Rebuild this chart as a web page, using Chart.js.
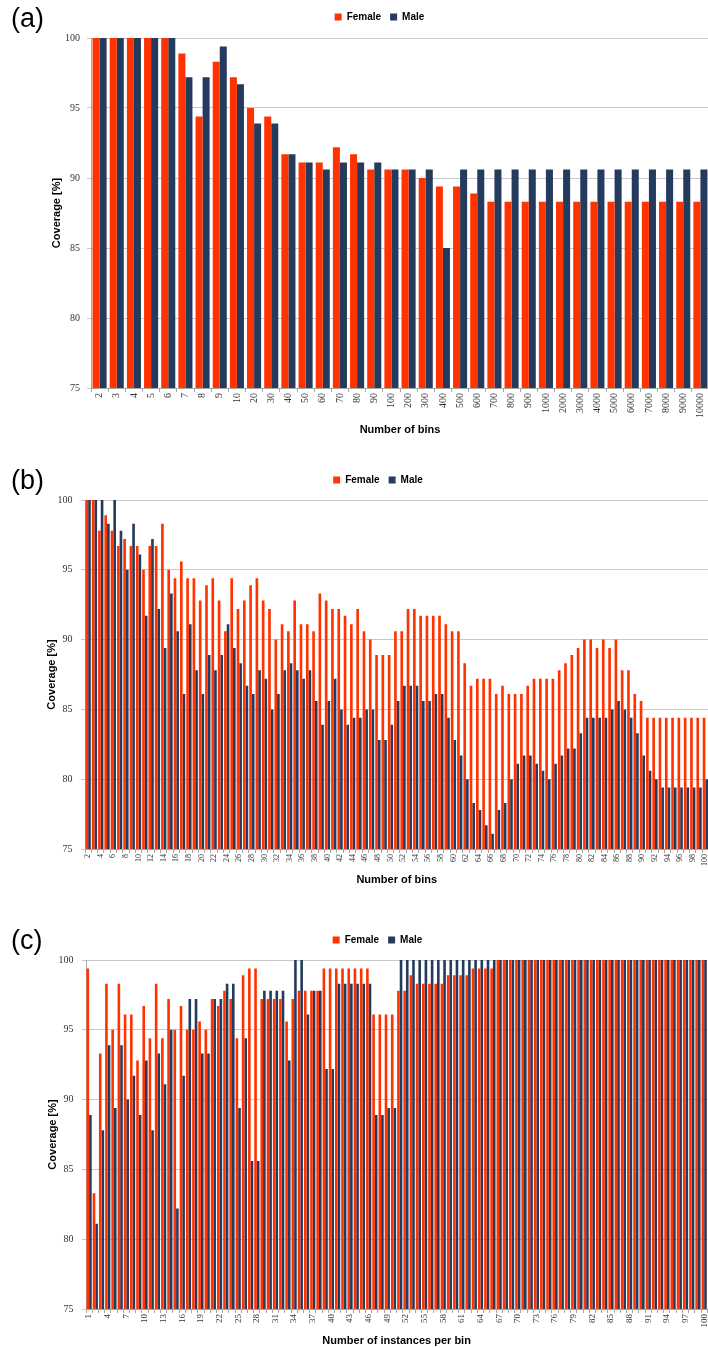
<!DOCTYPE html>
<html><head><meta charset="utf-8">
<script src="https://cdn.jsdelivr.net/npm/chart.js@4"></script>
<style>
html,body{margin:0;padding:0;overflow:hidden;background:#fff;width:708px;height:1348px;position:relative;}
canvas.panel{position:absolute;left:0;}
.lab{position:absolute;left:11px;font:27px/1 'Liberation Sans',Arial,sans-serif;color:#000;z-index:2;}
</style></head><body>
<div class="lab" style="top:5px">(a)</div>
<div class="lab" style="top:467px">(b)</div>
<div class="lab" style="top:927px">(c)</div>
<canvas id="ca" class="panel" style="top:0px" width="716" height="445"></canvas>
<canvas id="cb" class="panel" style="top:460px" width="716" height="432"></canvas>
<canvas id="cc" class="panel" style="top:920px" width="716" height="428"></canvas>
<script>
// ---------- Panel (a): Number of bins ----------
const binsA = ['2','3','4','5','6','7','8','9','10','20','30','40','50','60','70','80','90','100','200','300','400','500','600','700','800','900','1000','2000','3000','4000','5000','6000','7000','8000','9000','10000'];
const femaleA = [100,100,100,100,100,98.9,94.4,98.3,97.2,
  95.0,94.4,91.7,91.1,91.1,92.2,91.7,90.6,90.6,
  90.6,90.0,89.4,89.4,88.9,88.3,88.3,88.3,88.3,
  88.3,88.3,88.3,88.3,88.3,88.3,88.3,88.3,88.3];
const maleA = [100,100,100,100,100,97.2,97.2,99.4,96.7,
  93.9,93.9,91.7,91.1,90.6,91.1,91.1,91.1,90.6,
  90.6,90.6,85.0,90.6,90.6,90.6,90.6,90.6,90.6,
  90.6,90.6,90.6,90.6,90.6,90.6,90.6,90.6,90.6];

// ---------- Panel (b): Number of bins 2..100 ----------
const binsB = ['2','3','4','5','6','7','8','9','10','11','12','13','14','15','16','17','18','19','20','21','22','23','24','25','26','27','28','29','30','31','32','33','34','35','36','37','38','39','40','41','42','43','44','45','46','47','48','49','50','51','52','53','54','55','56','57','58','59','60','61','62','63','64','65','66','67','68','69','70','71','72','73','74','75','76','77','78','79','80','81','82','83','84','85','86','87','88','89','90','91','92','93','94','95','96','97','98','99','100'];
const femaleB = [
  100,100,97.8,98.9,97.8,96.7,97.2,96.7,96.7,95.0,
  96.7,96.7,98.3,95.0,94.4,95.6,94.4,94.4,92.8,93.9,
  94.4,92.8,90.6,94.4,92.2,92.8,93.9,94.4,92.8,92.2,
  90.0,91.1,90.6,92.8,91.1,91.1,90.6,93.3,92.8,92.2,
  92.2,91.7,91.1,92.2,90.6,90.0,88.9,88.9,88.9,90.6,
  90.6,92.2,92.2,91.7,91.7,91.7,91.7,91.1,90.6,90.6,
  88.3,86.7,87.2,87.2,87.2,86.1,86.7,86.1,86.1,86.1,
  86.7,87.2,87.2,87.2,87.2,87.8,88.3,88.9,89.4,90.0,
  90.0,89.4,90.0,89.4,90.0,87.8,87.8,86.1,85.6,84.4,
  84.4,84.4,84.4,84.4,84.4,84.4,84.4,84.4,84.4];
const maleB = [
  100,100,100,98.3,100,97.8,95.0,98.3,96.1,91.7,
  97.2,92.2,89.4,93.3,90.6,86.1,91.1,87.8,86.1,88.9,
  87.8,88.9,91.1,89.4,88.3,86.7,86.1,87.8,87.2,85.0,
  86.1,87.8,88.3,87.8,87.2,87.8,85.6,83.9,85.6,87.2,
  85.0,83.9,84.4,84.4,85.0,85.0,82.8,82.8,83.9,85.6,
  86.7,86.7,86.7,85.6,85.6,86.1,86.1,84.4,82.8,81.7,
  80.0,78.3,77.8,76.7,76.1,77.8,78.3,80.0,81.1,81.7,
  81.7,81.1,80.6,80.0,81.1,81.7,82.2,82.2,83.3,84.4,
  84.4,84.4,84.4,85.0,85.6,85.0,84.4,83.3,81.7,80.6,
  80.0,79.4,79.4,79.4,79.4,79.4,79.4,79.4,80.0];

// ---------- Panel (c): Number of instances per bin 1..100 ----------
const instC = ['1','2','3','4','5','6','7','8','9','10','11','12','13','14','15','16','17','18','19','20','21','22','23','24','25','26','27','28','29','30','31','32','33','34','35','36','37','38','39','40','41','42','43','44','45','46','47','48','49','50','51','52','53','54','55','56','57','58','59','60','61','62','63','64','65','66','67','68','69','70','71','72','73','74','75','76','77','78','79','80','81','82','83','84','85','86','87','88','89','90','91','92','93','94','95','96','97','98','99','100'];
const femaleC = [
  99.4,83.3,93.3,98.3,95.0,98.3,96.1,96.1,92.8,96.7,
  94.4,98.3,94.4,97.2,95.0,96.7,95.0,95.0,95.6,95.0,
  97.2,96.7,97.8,97.2,94.4,98.9,99.4,99.4,97.2,97.2,
  97.2,97.2,95.6,97.2,97.8,97.8,97.8,97.8,99.4,99.4,
  99.4,99.4,99.4,99.4,99.4,99.4,96.1,96.1,96.1,96.1,
  97.8,97.8,98.9,98.3,98.3,98.3,98.3,98.3,98.9,98.9,
  98.9,98.9,99.4,99.4,99.4,99.4,100,100,100,100,
  100,100,100,100,100,100,100,100,100,100,
  100,100,100,100,100,100,100,100,100,100,
  100,100,100,100,100,100,100,100,100,100];
const maleC = [
  88.9,81.1,87.8,93.9,89.4,93.9,90.0,91.7,88.9,92.8,
  87.8,93.3,91.1,95.0,82.2,91.7,97.2,97.2,93.3,93.3,
  97.2,97.2,98.3,98.3,89.4,94.4,85.6,85.6,97.8,97.8,
  97.8,97.8,92.8,100,100,96.1,97.8,97.8,92.2,92.2,
  98.3,98.3,98.3,98.3,98.3,98.3,88.9,88.9,89.4,89.4,
  100,100,100,100,100,100,100,100,100,100,
  100,100,100,100,100,100,100,100,100,100,
  100,100,100,100,100,100,100,100,100,100,
  100,100,100,100,100,100,100,100,100,100,
  100,100,100,100,100,100,100,100,100,100];

const yTicks = [75, 80, 85, 90, 95, 100];
const seriesNames = ['Female', 'Male'];
const FEMALE_COLOR = '#ff3300';
const MALE_COLOR = '#243b5e';

Chart.defaults.font.family = "'Liberation Sans', Arial, sans-serif";
Chart.defaults.color = '#000';

const legendNudge = {
  id: 'legendNudge',
  afterLayout(chart, args, opts) {
    const l = chart.legend;
    if (!l) return;
    const dy = opts.dy || 0, dx = opts.dx || 0;
    l.top += dy; l.bottom += dy; l.left += dx; l.right += dx;
  }
};

function makeChart(id, cfg) {
  const ctx = document.getElementById(id);
  return new Chart(ctx, {
    type: 'bar',
    data: {
      labels: cfg.labels,
      datasets: [
        { label: seriesNames[0], data: cfg.female, backgroundColor: FEMALE_COLOR, borderWidth: 0,
          categoryPercentage: cfg.catPct, barPercentage: 1.0 },
        { label: seriesNames[1], data: cfg.male, backgroundColor: MALE_COLOR, borderWidth: 0,
          categoryPercentage: cfg.catPct, barPercentage: 1.0 }
      ]
    },
    plugins: [legendNudge],
    options: {
      responsive: false,
      animation: false,
      devicePixelRatio: 1,
      layout: { padding: { left: cfg.padL, right: cfg.padR, top: cfg.padT, bottom: 0 } },
      plugins: {
        legend: {
          position: 'top',
          labels: { boxWidth: 7, boxHeight: 7, padding: 9, color: '#000',
            font: { size: 10, weight: 'bold' } }
        },
        tooltip: { enabled: false },
        legendNudge: { dy: cfg.legendDy, dx: cfg.legendDx || 0 }
      },
      scales: {
        x: {
          offset: true,
          grid: { display: true, drawOnChartArea: false, drawTicks: true, tickLength: 4,
            color: '#a6a6a6', offset: true },
          border: { display: true, color: '#a6a6a6', width: 1 },
          ticks: {
            autoSkip: false, minRotation: 90, maxRotation: 90, padding: 1,
            color: '#333', font: { family: "'Liberation Serif', 'Times New Roman', serif", size: cfg.xFont },
            callback: function (val, idx) { return idx % cfg.every === 0 ? this.getLabelForValue(val) : ''; }
          },
          title: { display: true, text: cfg.xTitle, color: '#000',
            font: { size: 11, weight: 'bold' }, padding: { top: 0, bottom: cfg.xTitlePadB } },
          afterFit: (s) => { s.height = cfg.xH; }
        },
        y: {
          min: 75, max: 100,
          afterBuildTicks: (s) => { s.ticks = yTicks.map(v => ({ value: v })); },
          grid: { color: '#c8c8c8', lineWidth: 1, drawTicks: true, tickLength: 4 },
          border: { display: true, color: '#a6a6a6', width: 1 },
          ticks: { padding: cfg.yPad, color: '#333',
            font: { family: "'Liberation Serif', 'Times New Roman', serif", size: 10 } },
          title: { display: true, text: 'Coverage [%]', color: '#000',
            font: { size: 11, weight: 'bold' }, padding: { top: 0, bottom: 0 } },
          afterFit: (s) => { s.width = cfg.yW; }
        }
      }
    }
  });
}

makeChart('ca', { labels: binsA, female: femaleA, male: maleA, catPct: 0.82,
  padL: 50, padR: 7, padT: 9, legendDy: -6, yW: 41, yPad: 7,
  xFont: 10, every: 1, xTitle: 'Number of bins', xTitlePadB: 8.4, xH: 57 });

makeChart('cb', { labels: binsB, female: femaleB, male: maleB, catPct: 0.84,
  padL: 45, padR: 5, padT: 11, legendDy: -5, yW: 40, yPad: 8.5,
  xFont: 8, every: 2, xTitle: 'Number of bins', xTitlePadB: 5.4, xH: 43 });

makeChart('cc', { labels: instC, female: femaleC, male: maleC, catPct: 0.84,
  padL: 46, padR: 7, padT: 11, legendDy: -5, yW: 40, yPad: 8.5,
  xFont: 9, every: 3, xTitle: 'Number of instances per bin', xTitlePadB: 0.4, xH: 39 });
</script>
</body></html>
